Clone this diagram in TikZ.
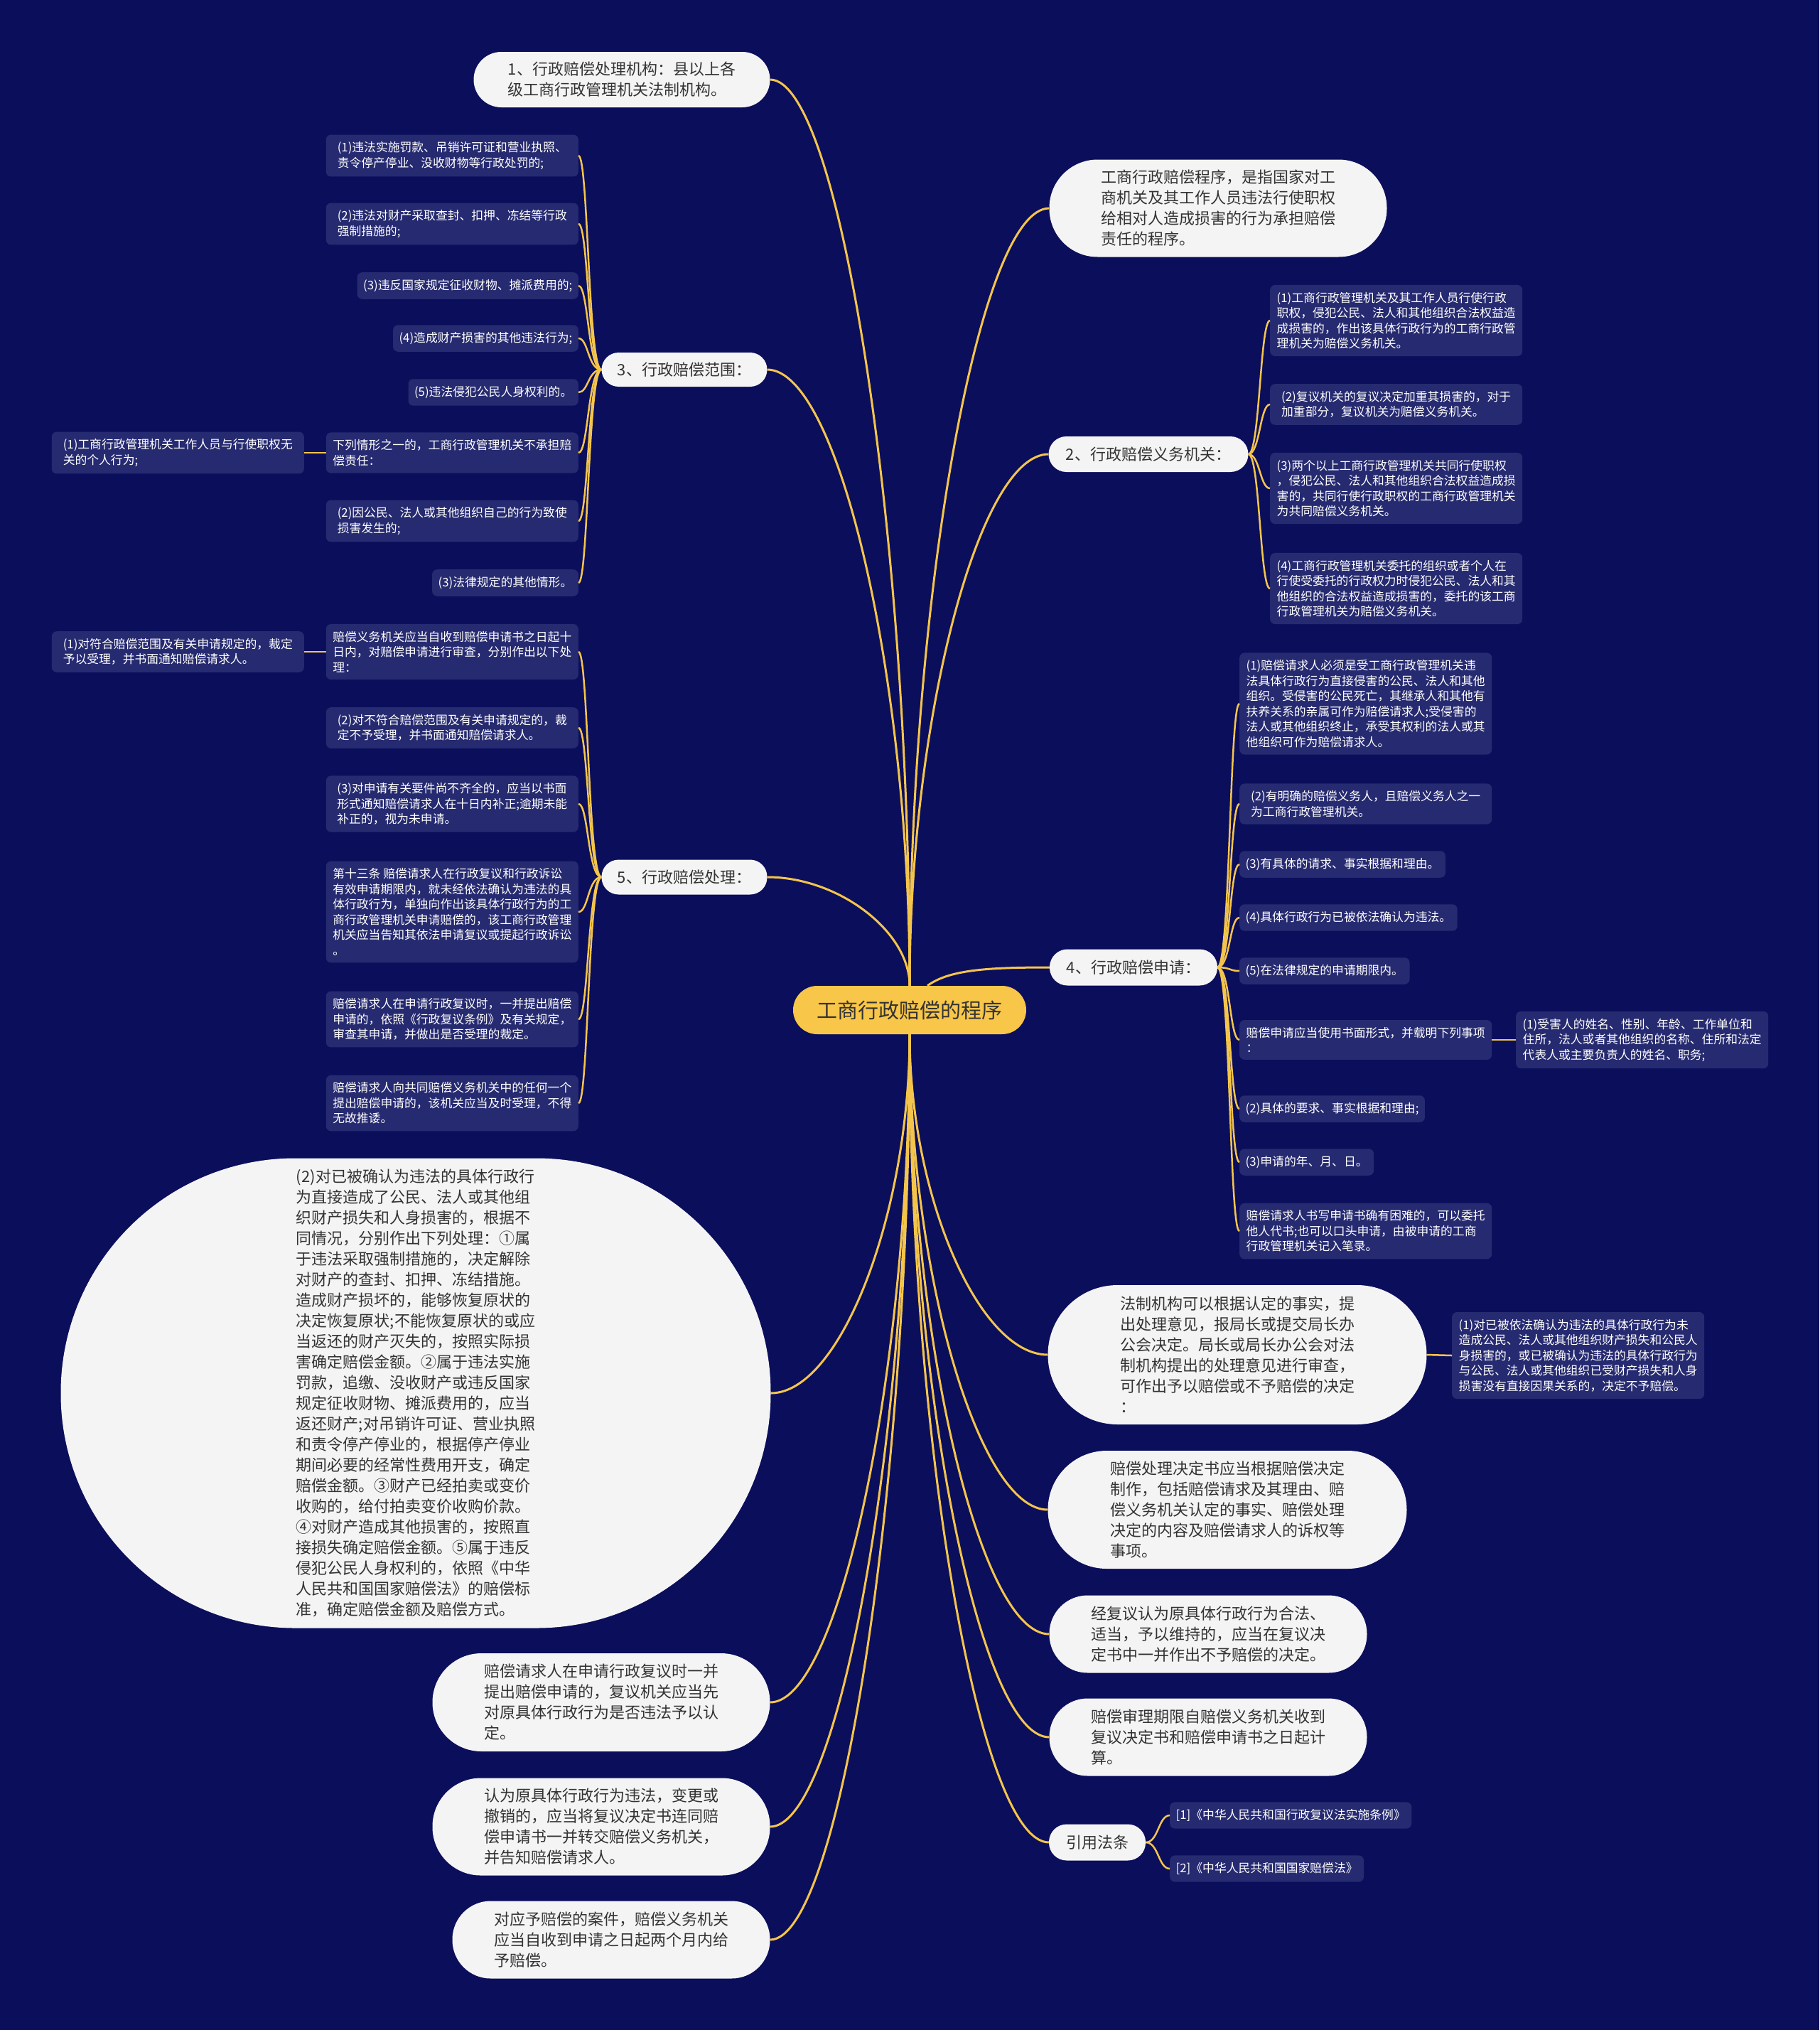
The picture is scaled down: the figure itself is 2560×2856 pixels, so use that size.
\documentclass[tikz,border=0pt]{standalone}
\usepackage{fontspec}
\setmainfont{Noto Sans CJK SC}
\usetikzlibrary{calc}
\definecolor{bgc}{HTML}{0B0E5B}
\definecolor{dkbox}{HTML}{262A70}
\definecolor{gold}{HTML}{F4C54C}
\definecolor{rootc}{HTML}{F8C649}
\definecolor{pillc}{HTML}{F4F4F4}
\definecolor{ptext}{HTML}{333333}
\newcommand\rbranch[2]{\draw[br] (#1) .. controls ($(#1)!0.5!(#1 |- #2)$) and ($(#2)!0.5!(#1 |- #2)$) .. (#2);}
\newcommand\sbranch[4]{\draw[sb] (#1) .. controls ($(#1)+(#3,0)$) and ($(#2)+(#4,0)$) .. (#2);}
\begin{document}
\begin{tikzpicture}[x=1pt,y=-1pt,
 dk/.style={fill=dkbox, text=white, rounded corners=7pt, inner xsep=8.5pt, inner ysep=10pt, align=left, font=\fontsize{16.8}{21.5}\selectfont},
 dkw/.style={dk, minimum width=355pt},
 wp/.style={fill=pillc, text=ptext, align=left, font=\fontsize{22}{29}\selectfont, inner sep=0pt},
 br/.style={draw=gold, line width=3pt},
 sb/.style={draw=gold, line width=2.5pt},
]
\fill[bgc] (0,0) rectangle (2560,2856);
\useasboundingbox (0,0) rectangle (2560,2856);

% root
\node[fill=rootc, text=ptext, rounded corners=34pt, minimum width=328pt, minimum height=68pt, inner sep=0pt, font=\fontsize{29}{34}\selectfont] (root) at (1280,1421) {工商行政赔偿的程序};

% level-1 white nodes
\node[wp, minimum width=417pt, minimum height=78pt, rounded corners=39pt] (w1) at (875,112) {1、行政赔偿处理机构：县以上各\\级工商行政管理机关法制机构。};
\node[wp, minimum width=475pt, minimum height=137pt, rounded corners=68pt] (w2) at (1714,293) {工商行政赔偿程序，是指国家对工\\商机关及其工作人员违法行使职权\\给相对人造成损害的行为承担赔偿\\责任的程序。};
\node[wp, minimum width=233pt, minimum height=48pt, rounded corners=24pt] (w3) at (963,520) {3、行政赔偿范围：};
\node[wp, minimum width=281pt, minimum height=50pt, rounded corners=25pt] (w4) at (1616,639) {2、行政赔偿义务机关：};
\node[wp, minimum width=233pt, minimum height=49pt, rounded corners=24pt] (w5) at (963,1234) {5、行政赔偿处理：};
\node[wp, minimum width=236pt, minimum height=51pt, rounded corners=25pt] (w6) at (1595,1361) {4、行政赔偿申请：};
\node[wp, minimum width=999pt, minimum height=661pt, rounded corners=330pt] (w7) at (585,1960) {(2)对已被确认为违法的具体行政行\\为直接造成了公民、法人或其他组\\织财产损失和人身损害的，根据不\\同情况，分别作出下列处理：①属\\于违法采取强制措施的，决定解除\\对财产的查封、扣押、冻结措施。\\造成财产损坏的，能够恢复原状的\\决定恢复原状;不能恢复原状的或应\\当返还的财产灭失的，按照实际损\\害确定赔偿金额。②属于违法实施\\罚款，追缴、没收财产或违反国家\\规定征收财物、摊派费用的，应当\\返还财产;对吊销许可证、营业执照\\和责令停产停业的，根据停产停业\\期间必要的经常性费用开支，确定\\赔偿金额。③财产已经拍卖或变价\\收购的，给付拍卖变价收购价款。\\④对财产造成其他损害的，按照直\\接损失确定赔偿金额。⑤属于违反\\侵犯公民人身权利的，依照《中华\\人民共和国国家赔偿法》的赔偿标\\准，确定赔偿金额及赔偿方式。};
\node[wp, minimum width=533pt, minimum height=196pt, rounded corners=98pt] (w8) at (1741,1906) {法制机构可以根据认定的事实，提\\出处理意见，报局长或提交局长办\\公会决定。局长或局长办公会对法\\制机构提出的处理意见进行审查，\\可作出予以赔偿或不予赔偿的决定\\：};
\node[wp, minimum width=505pt, minimum height=166pt, rounded corners=83pt] (w9) at (1727,2124) {赔偿处理决定书应当根据赔偿决定\\制作，包括赔偿请求及其理由、赔\\偿义务机关认定的事实、赔偿处理\\决定的内容及赔偿请求人的诉权等\\事项。};
\node[wp, minimum width=447pt, minimum height=109pt, rounded corners=54pt] (w10) at (1700,2299) {经复议认为原具体行政行为合法、\\适当，予以维持的，应当在复议决\\定书中一并作出不予赔偿的决定。};
\node[wp, minimum width=447pt, minimum height=109pt, rounded corners=54pt] (w11) at (1700,2444) {赔偿审理期限自赔偿义务机关收到\\复议决定书和赔偿申请书之日起计\\算。};
\node[wp, minimum width=136pt, minimum height=51pt, rounded corners=25pt] (w12) at (1544,2592) {引用法条};
\node[wp, minimum width=475pt, minimum height=138pt, rounded corners=69pt] (w13) at (846,2395) {赔偿请求人在申请行政复议时一并\\提出赔偿申请的，复议机关应当先\\对原具体行政行为是否违法予以认\\定。};
\node[wp, minimum width=475pt, minimum height=137pt, rounded corners=68pt] (w14) at (846,2570) {认为原具体行政行为违法，变更或\\撤销的，应当将复议决定书连同赔\\偿申请书一并转交赔偿义务机关，\\并告知赔偿请求人。};
\node[wp, minimum width=447pt, minimum height=109pt, rounded corners=54pt] (w15) at (860,2729) {对应予赔偿的案件，赔偿义务机关\\应当自收到申请之日起两个月内给\\予赔偿。};

% group 3
\node[dkw, anchor=east] (a1) at (814,219) {(1)违法实施罚款、吊销许可证和营业执照、\\责令停产停业、没收财物等行政处罚的;};
\node[dkw, anchor=east] (a2) at (814,315) {(2)违法对财产采取查封、扣押、冻结等行政\\强制措施的;};
\node[dk, anchor=east] (a3) at (814,402) {(3)违反国家规定征收财物、摊派费用的;};
\node[dk, anchor=east] (a4) at (814,476) {(4)造成财产损害的其他违法行为;};
\node[dk, anchor=east] (a5) at (814,552) {(5)违法侵犯公民人身权利的。};
\node[dkw, anchor=east] (a6) at (814,637) {下列情形之一的，工商行政管理机关不承担赔\\偿责任：};
\node[dkw, anchor=east] (a6c) at (428,637) {(1)工商行政管理机关工作人员与行使职权无\\关的个人行为;};
\node[dkw, anchor=east] (a7) at (814,733) {(2)因公民、法人或其他组织自己的行为致使\\损害发生的;};
\node[dk, anchor=east] (a8) at (814,820) {(3)法律规定的其他情形。};

% group 5
\node[dkw, anchor=east] (b1) at (814,917) {赔偿义务机关应当自收到赔偿申请书之日起十\\日内，对赔偿申请进行审查，分别作出以下处\\理：};
\node[dkw, anchor=east] (b1c) at (428,917) {(1)对符合赔偿范围及有关申请规定的，裁定\\予以受理，并书面通知赔偿请求人。};
\node[dkw, anchor=east] (b2) at (814,1024) {(2)对不符合赔偿范围及有关申请规定的，裁\\定不予受理，并书面通知赔偿请求人。};
\node[dkw, anchor=east] (b3) at (814,1131) {(3)对申请有关要件尚不齐全的，应当以书面\\形式通知赔偿请求人在十日内补正;逾期未能\\补正的，视为未申请。};
\node[dkw, anchor=east] (b4) at (814,1283) {第十三条 赔偿请求人在行政复议和行政诉讼\\有效申请期限内，就未经依法确认为违法的具\\体行政行为，单独向作出该具体行政行为的工\\商行政管理机关申请赔偿的，该工商行政管理\\机关应当告知其依法申请复议或提起行政诉讼\\。};
\node[dkw, anchor=east] (b5) at (814,1434) {赔偿请求人在申请行政复议时，一并提出赔偿\\申请的，依照《行政复议条例》及有关规定，\\审查其申请，并做出是否受理的裁定。};
\node[dkw, anchor=east] (b6) at (814,1552) {赔偿请求人向共同赔偿义务机关中的任何一个\\提出赔偿申请的，该机关应当及时受理，不得\\无故推诿。};

% group 2
\node[dkw, anchor=west] (c1) at (1787,451) {(1)工商行政管理机关及其工作人员行使行政\\职权，侵犯公民、法人和其他组织合法权益造\\成损害的，作出该具体行政行为的工商行政管\\理机关为赔偿义务机关。};
\node[dkw, anchor=west] (c2) at (1787,569) {(2)复议机关的复议决定加重其损害的，对于\\加重部分，复议机关为赔偿义务机关。};
\node[dkw, anchor=west] (c3) at (1787,687) {(3)两个以上工商行政管理机关共同行使职权\\，侵犯公民、法人和其他组织合法权益造成损\\害的，共同行使行政职权的工商行政管理机关\\为共同赔偿义务机关。};
\node[dkw, anchor=west] (c4) at (1787,828) {(4)工商行政管理机关委托的组织或者个人在\\行使受委托的行政权力时侵犯公民、法人和其\\他组织的合法权益造成损害的，委托的该工商\\行政管理机关为赔偿义务机关。};

% group 4
\node[dkw, anchor=west] (d1) at (1744,990) {(1)赔偿请求人必须是受工商行政管理机关违\\法具体行政行为直接侵害的公民、法人和其他\\组织。受侵害的公民死亡，其继承人和其他有\\扶养关系的亲属可作为赔偿请求人;受侵害的\\法人或其他组织终止，承受其权利的法人或其\\他组织可作为赔偿请求人。};
\node[dkw, anchor=west] (d2) at (1744,1131) {(2)有明确的赔偿义务人，且赔偿义务人之一\\为工商行政管理机关。};
\node[dk, anchor=west] (d3) at (1744,1216) {(3)有具体的请求、事实根据和理由。};
\node[dk, anchor=west] (d4) at (1744,1291) {(4)具体行政行为已被依法确认为违法。};
\node[dk, anchor=west] (d5) at (1744,1366) {(5)在法律规定的申请期限内。};
\node[dkw, anchor=west] (d6) at (1744,1463) {赔偿申请应当使用书面形式，并载明下列事项\\：};
\node[dkw, anchor=west] (d6c) at (2133,1463) {(1)受害人的姓名、性别、年龄、工作单位和\\住所，法人或者其他组织的名称、住所和法定\\代表人或主要负责人的姓名、职务;};
\node[dk, anchor=west] (d7) at (1744,1560) {(2)具体的要求、事实根据和理由;};
\node[dk, anchor=west] (d8) at (1744,1635) {(3)申请的年、月、日。};
\node[dkw, anchor=west] (d9) at (1744,1732) {赔偿请求人书写申请书确有困难的，可以委托\\他人代书;也可以口头申请，由被申请的工商\\行政管理机关记入笔录。};

% others
\node[dkw, anchor=west] (e1) at (2043,1907) {(1)对已被依法确认为违法的具体行政行为未\\造成公民、法人或其他组织财产损失和公民人\\身损害的，或已被确认为违法的具体行政行为\\与公民、法人或其他组织已受财产损失和人身\\损害没有直接因果关系的，决定不予赔偿。};
\node[dk, anchor=west] (f1) at (1646,2554) {[1]《中华人民共和国行政复议法实施条例》};
\node[dk, anchor=west] (f2) at (1646,2629) {[2]《中华人民共和国国家赔偿法》};

% root branches
\rbranch{root.north}{w1.east}
\rbranch{root.north}{w3.east}
\rbranch{root.north}{w5.east}
\rbranch{root.north}{w2.west}
\rbranch{root.north}{w4.west}
\draw[br] ($(root.north)+(25,0)$) .. controls ($(root.north)+(55,-22)$) and ($(w6.west)+(-90,0)$) .. (w6.west);
\rbranch{root.south}{w7.east}
\rbranch{root.south}{w13.east}
\rbranch{root.south}{w14.east}
\rbranch{root.south}{w15.east}
\rbranch{root.south}{w8.west}
\rbranch{root.south}{w9.west}
\rbranch{root.south}{w10.west}
\rbranch{root.south}{w11.west}
\rbranch{root.south}{w12.west}

% sub branches
\foreach \c in {a1,a2,a3,a4,a5,a6,a7,a8} {\sbranch{w3.west}{\c.east}{-19}{14}}
\foreach \c in {b1,b2,b3,b4,b5,b6} {\sbranch{w5.west}{\c.east}{-19}{14}}
\foreach \c in {c1,c2,c3,c4} {\sbranch{w4.east}{\c.west}{16}{-14}}
\foreach \c in {d1,d2,d3,d4,d5,d6,d7,d8,d9} {\sbranch{w6.east}{\c.west}{18}{-14}}
\foreach \c in {f1,f2} {\sbranch{w12.east}{\c.west}{18}{-16}}
\draw[sb] (a6.west) -- (a6c.east);
\draw[sb] (b1.west) -- (b1c.east);
\draw[sb] (d6.east) -- (d6c.west);
\draw[sb] (w8.east) -- (e1.west);
\end{tikzpicture}
\end{document}
